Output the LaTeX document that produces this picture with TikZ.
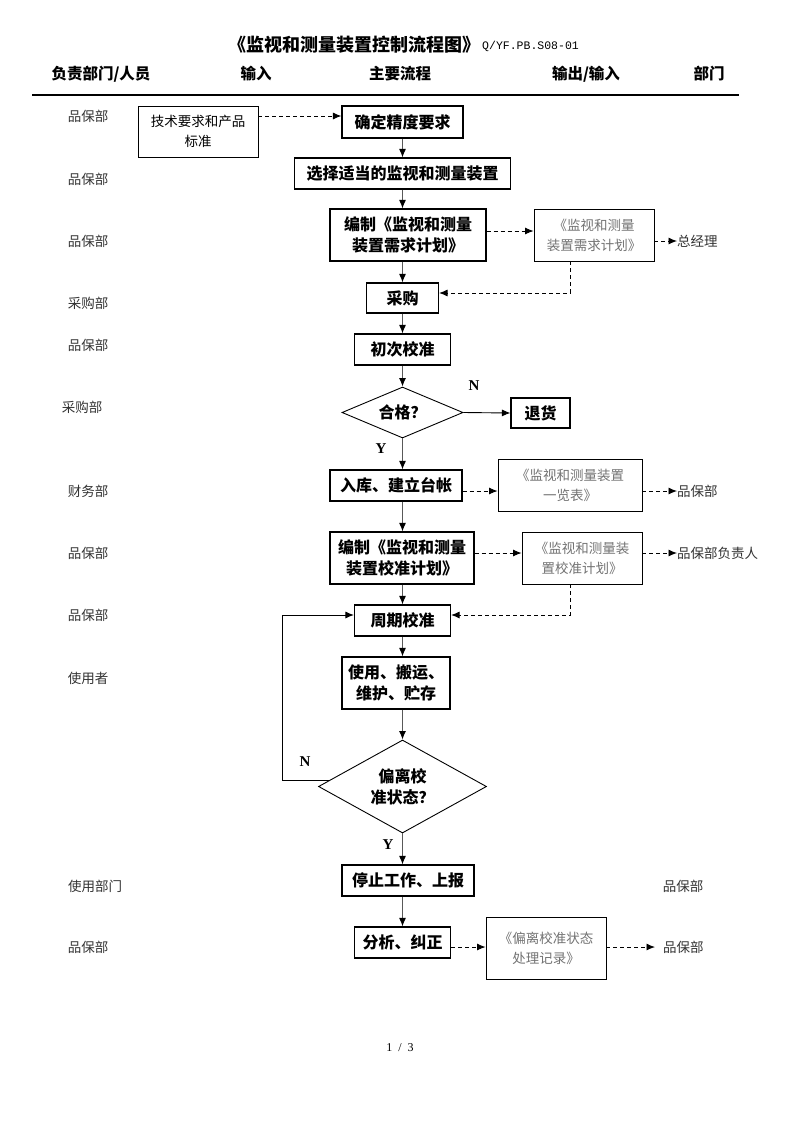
\documentclass[tikz,border=0pt]{standalone}
\usepackage{fontspec}
\usetikzlibrary{arrows.meta,shapes.geometric,calc}
\setmainfont{Liberation Serif}
\newfontfamily\cjk{Noto Sans CJK SC}
\newfontfamily\monof{Liberation Mono}
\tikzset{
  x=1pt, y=-1pt,
  proc/.style={draw, line width=1.1pt, inner sep=0pt, align=center,
    font=\cjk\bfseries\fontsize{16}{21}\selectfont},
  outbox/.style={draw, line width=0.9pt, inner sep=0pt, align=center, text=black!55,
    font=\cjk\fontsize{13.5}{20}\selectfont},
  inbox/.style={draw, line width=0.9pt, inner sep=0pt, align=center,
    font=\cjk\fontsize{13.5}{20}\selectfont},
  dept/.style={inner sep=0pt, font=\cjk\fontsize{13.5}{16}\selectfont, text=black!80},
  hdr/.style={inner sep=0pt, font=\cjk\bfseries\fontsize{15.5}{18}\selectfont},
  yn/.style={inner sep=0pt, font=\bfseries\fontsize{15}{18}\selectfont},
  dec/.style={draw, shape=diamond, line width=0.9pt, inner sep=0pt, aspect=2.4, align=center,
    font=\cjk\bfseries\fontsize{16}{21}\selectfont},
  arr/.style={draw=black!65, line width=1.1pt, -{Latex[length=8.5pt,width=7pt,black]}},
  darr/.style={draw=black, line width=0.9pt, dash pattern=on 4pt off 3pt, -{Latex[length=8.5pt,width=7pt,black]}},
  loop/.style={draw=black, line width=0.9pt, -{Latex[length=8.5pt,width=7pt,black]}},
}
\begin{document}
\begin{tikzpicture}
\useasboundingbox (0,0) rectangle (793,1122);
\fill[white] (0,0) rectangle (793,1122);

% title
\node[inner sep=0pt, font=\cjk\bfseries\fontsize{18}{20}\selectfont] (title) at (354,45) {《监视和测量装置控制流程图》};
\node[inner sep=0pt, anchor=west, font=\monof\fontsize{11.5}{14}\selectfont] (code) at (482,46) {Q/YF.PB.S08-01};

% header
\node[hdr] (h1) at (101,74) {负责部门/人员};
\node[hdr] (h2) at (256,74) {输入};
\node[hdr] (h3) at (400,74) {主要流程};
\node[hdr] (h4) at (586,74) {输出/输入};
\node[hdr] (h5) at (709,74) {部门};
\draw[line width=1.2pt] (32,95) -- (739,95);

% left department labels
\node[dept] (l1) at (88,116) {品保部};
\node[dept] (l2) at (88,179) {品保部};
\node[dept] (l3) at (88,241) {品保部};
\node[dept] (l4) at (88,303) {采购部};
\node[dept] (l5) at (88,345) {品保部};
\node[dept] (l6) at (82,407) {采购部};
\node[dept] (l7) at (88,491) {财务部};
\node[dept] (l8) at (88,553) {品保部};
\node[dept] (l9) at (88,615) {品保部};
\node[dept] (l10) at (88,678) {使用者};
\node[dept] (l11) at (95,886) {使用部门};
\node[dept] (l12) at (88,947) {品保部};

% main flow
\node[inbox, minimum width=120, minimum height=51] (in1) at (198,131.5) {技术要求和产品\\标准};
\node[proc, minimum width=121, minimum height=32] (b1) at (402.5,122) {确定精度要求};
\node[proc, minimum width=216, minimum height=31] (b2) at (402.5,173.5) {选择适当的监视和测量装置};
\node[proc, minimum width=156, minimum height=52] (b3) at (408,235) {编制《监视和测量\\装置需求计划》};
\node[outbox, minimum width=120, minimum height=52] (o3) at (594,235) {《监视和测量\\装置需求计划》};
\node[dept, anchor=west] (t3) at (677,241) {总经理};
\node[proc, minimum width=72, minimum height=30] (b4) at (402.5,298) {采购};
\node[proc, minimum width=96, minimum height=31] (b5) at (402.5,349.5) {初次校准};
\node[dec, minimum width=121, minimum height=51] (d1) at (402.5,412.5) {合格？};
\node[proc, minimum width=59, minimum height=30] (th) at (540.5,413) {退货};
\node[yn] (n1) at (474,386) {N};
\node[yn] (y1) at (381,449) {Y};
\node[proc, minimum width=132, minimum height=31] (b6) at (396,485.5) {入库、建立台帐};
\node[outbox, minimum width=144, minimum height=52] (o6) at (570,485) {《监视和测量装置\\一览表》};
\node[dept, anchor=west] (t6) at (677,491) {品保部};
\node[proc, minimum width=144, minimum height=52] (b7) at (402,558) {编制《监视和测量\\装置校准计划》};
\node[outbox, minimum width=120, minimum height=52] (o7) at (582,558) {《监视和测量装\\置校准计划》};
\node[dept, anchor=west] (t7) at (677,553) {品保部负责人};
\node[proc, minimum width=96, minimum height=31] (b8) at (402.5,620.5) {周期校准};
\node[proc, minimum width=108, minimum height=52] (b9) at (396,683) {使用、搬运、\\维护、贮存};
\node[dec, minimum width=168, minimum height=93] (d2) at (402.5,786.5) {偏离校\\准状态？};
\node[yn] (y2) at (388,845) {Y};
\node[yn] (n2) at (305,762) {N};
\node[proc, minimum width=132, minimum height=31] (b10) at (408,880.5) {停止工作、上报};
\node[dept] (t10) at (683,886) {品保部};
\node[proc, minimum width=96, minimum height=31] (b11) at (402.5,942.5) {分析、纠正};
\node[outbox, minimum width=120, minimum height=62] (o11) at (546,948) {《偏离校准状态\\处理记录》};
\node[dept, anchor=west] (t11) at (663,947) {品保部};

% page number
\node[inner sep=0pt, font=\fontsize{12}{14}\selectfont] (pg) at (400,1048) {1 \ / \ 3};

% connectors
\coordinate (a1) at ([yshift=15.5pt]in1.east);
\draw[darr] (a1) -- (a1 -| b1.west);
\draw[arr] (b1.south) -- (b1.south |- b2.north);
\draw[arr] (b2.south) -- (b2.south |- b3.north);
\coordinate (a3) at ([yshift=4pt]b3.east);
\draw[darr] (a3) -- (a3 -| o3.west);
\draw[darr] (o3.east |- t3.west) -- (t3.west);
\draw[arr] (b3.south -| b4.north) -- (b4.north);
\coordinate (c3) at ([xshift=-24pt]o3.south);
\draw[darr] (c3) |- ([yshift=5pt]b4.east);
\draw[arr] (b4.south) -- (b5.north);
\draw[arr] (b5.south) -- (d1.north);
\draw[arr, draw=black, line width=0.9pt] (d1.east) -- (th.west);
\draw[arr] (d1.south) -- (d1.south |- b6.north);
\coordinate (a6) at ([yshift=-5.5pt]b6.east);
\draw[darr] (a6) -- (a6 -| o6.west);
\draw[darr] (o6.east |- t6.west) -- (t6.west);
\draw[arr] (b6.south -| b8.north) -- (b8.north |- b7.north);
\coordinate (a7) at ([yshift=5pt]b7.east);
\draw[darr] (a7) -- (a7 -| o7.west);
\draw[darr] (o7.east |- t7.west) -- (t7.west);
\coordinate (c7) at ([xshift=-12pt]o7.south);
\draw[darr] (c7) |- ([yshift=5.5pt]b8.east);
\draw[arr] (b7.south -| b8.north) -- (b8.north);
\draw[arr] (b8.south) -- (b8.south |- b9.north);
\draw[arr] (d2.north |- b9.south) -- (d2.north);
\draw[arr] (d2.south) -- (d2.south |- b10.north);
\draw[arr] (d2.south |- b10.south) -- (b11.north);
\coordinate (dl) at ($(d2.west)!0.13!(d2.north)$);
\coordinate (lp) at (282,0);
\draw[loop] (dl) -- (dl -| lp) |- ([yshift=5.5pt]b8.west);
\coordinate (a11) at ([yshift=-4.5pt]b11.east);
\draw[darr] (a11) -- (a11 -| o11.west);
\draw[darr, shorten >=8pt] (o11.east |- t11.west) -- (t11.west);
\end{tikzpicture}
\end{document}
